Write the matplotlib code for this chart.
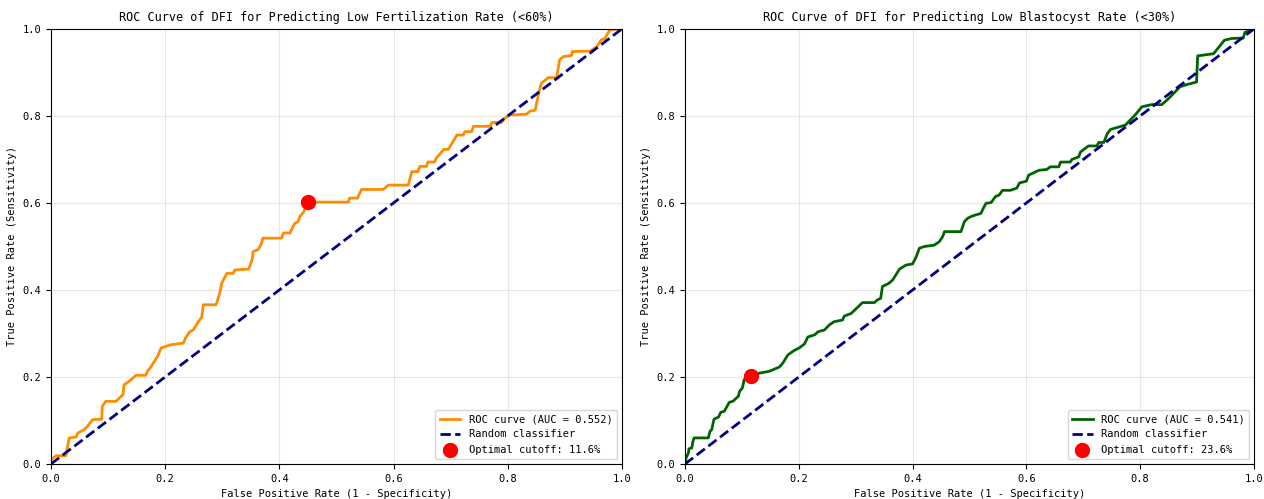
import matplotlib
matplotlib.use("Agg")
import matplotlib.pyplot as plt

plt.rcParams['font.family'] = ['DejaVu Sans Mono']

# ROC curve of DFI vs low fertilization rate (<60%)
fpr_fert = [0.0, 0.0, 0.009, 0.026, 0.032, 0.044, 0.047, 0.058, 0.064, 0.073, 0.089, 0.090,
            0.096, 0.114, 0.120, 0.126, 0.128, 0.137, 0.149, 0.166, 0.169, 0.175, 0.187, 0.193,
            0.210, 0.232, 0.236, 0.243, 0.249, 0.255, 0.258, 0.264, 0.267, 0.289, 0.293, 0.297,
            0.299, 0.302, 0.308, 0.319, 0.322, 0.346, 0.349, 0.353, 0.354, 0.363, 0.369, 0.371,
            0.404, 0.407, 0.419, 0.421, 0.427, 0.433, 0.436, 0.443, 0.447, 0.451, 0.521, 0.523,
            0.537, 0.540, 0.544, 0.582, 0.591, 0.626, 0.632, 0.643, 0.646, 0.658, 0.660, 0.672,
            0.675, 0.688, 0.696, 0.711, 0.722, 0.725, 0.737, 0.740, 0.770, 0.772, 0.789, 0.795,
            0.804, 0.833, 0.839, 0.848, 0.850, 0.855, 0.859, 0.871, 0.886, 0.887, 0.891, 0.897,
            0.912, 0.913, 0.944, 0.956, 0.964, 0.970, 0.979, 1.0]
tpr_fert = [0.0, 0.010, 0.019, 0.019, 0.060, 0.062, 0.071, 0.079, 0.087, 0.102, 0.103, 0.133,
            0.144, 0.144, 0.152, 0.159, 0.182, 0.190, 0.204, 0.204, 0.213, 0.223, 0.248, 0.267,
            0.274, 0.278, 0.290, 0.304, 0.308, 0.320, 0.327, 0.337, 0.366, 0.366, 0.381, 0.400,
            0.415, 0.423, 0.438, 0.438, 0.446, 0.448, 0.457, 0.473, 0.488, 0.493, 0.507, 0.519,
            0.519, 0.531, 0.531, 0.538, 0.553, 0.557, 0.569, 0.580, 0.595, 0.602, 0.602, 0.611,
            0.611, 0.620, 0.631, 0.631, 0.641, 0.641, 0.672, 0.672, 0.684, 0.684, 0.694, 0.694,
            0.703, 0.723, 0.723, 0.756, 0.756, 0.764, 0.764, 0.776, 0.776, 0.785, 0.785, 0.795,
            0.802, 0.804, 0.811, 0.813, 0.825, 0.856, 0.875, 0.888, 0.888, 0.898, 0.929, 0.936,
            0.939, 0.948, 0.949, 0.959, 0.975, 0.978, 0.998, 1.0]

# ROC curve of DFI vs low blastocyst rate (<30%)
fpr_blast = [0.0, 0.002, 0.006, 0.007, 0.012, 0.014, 0.016, 0.041, 0.044, 0.047, 0.051, 0.059,
             0.063, 0.069, 0.078, 0.084, 0.094, 0.096, 0.101, 0.104, 0.110, 0.116, 0.131, 0.148,
             0.157, 0.166, 0.172, 0.181, 0.192, 0.201, 0.210, 0.216, 0.228, 0.234, 0.245, 0.254,
             0.262, 0.277, 0.280, 0.292, 0.300, 0.312, 0.333, 0.338, 0.344, 0.347, 0.358, 0.365,
             0.377, 0.382, 0.388, 0.400, 0.406, 0.412, 0.421, 0.438, 0.447, 0.453, 0.456, 0.485,
             0.491, 0.497, 0.505, 0.520, 0.526, 0.529, 0.538, 0.546, 0.552, 0.558, 0.572, 0.583,
             0.588, 0.600, 0.604, 0.622, 0.636, 0.642, 0.657, 0.660, 0.677, 0.680, 0.692, 0.695,
             0.709, 0.724, 0.727, 0.736, 0.742, 0.748, 0.774, 0.791, 0.803, 0.820, 0.838, 0.850,
             0.870, 0.882, 0.899, 0.901, 0.929, 0.948, 0.961, 0.981, 0.984, 0.995, 1.0]
tpr_blast = [0.0, 0.014, 0.025, 0.035, 0.037, 0.052, 0.060, 0.060, 0.075, 0.079, 0.103, 0.108,
             0.119, 0.121, 0.142, 0.144, 0.156, 0.167, 0.175, 0.194, 0.200, 0.203, 0.209, 0.213,
             0.218, 0.223, 0.232, 0.251, 0.261, 0.267, 0.276, 0.292, 0.297, 0.304, 0.308, 0.320,
             0.327, 0.331, 0.340, 0.346, 0.356, 0.371, 0.371, 0.377, 0.381, 0.408, 0.415, 0.423,
             0.448, 0.452, 0.457, 0.460, 0.475, 0.496, 0.500, 0.503, 0.511, 0.523, 0.534, 0.534,
             0.557, 0.565, 0.570, 0.576, 0.592, 0.599, 0.601, 0.615, 0.618, 0.629, 0.629, 0.634,
             0.646, 0.650, 0.664, 0.675, 0.677, 0.683, 0.683, 0.694, 0.694, 0.700, 0.706, 0.717,
             0.731, 0.731, 0.739, 0.739, 0.759, 0.769, 0.779, 0.802, 0.821, 0.826, 0.826, 0.840,
             0.867, 0.872, 0.878, 0.938, 0.943, 0.974, 0.978, 0.979, 0.992, 0.998, 1.0]

auc_fert = 0.552
auc_blast = 0.541
opt_fert = (0.451, 0.602, 11.6)
opt_blast = (0.116, 0.203, 23.6)

titles = ['ROC Curve of DFI for Predicting Low Fertilization Rate (<60%)',
          'ROC Curve of DFI for Predicting Low Blastocyst Rate (<30%)']


def plot_roc(ax, fpr, tpr, auc, opt, color, title):
    ax.plot(fpr, tpr, color=color, lw=2, label='ROC curve (AUC = %.3f)' % auc)
    ax.plot([0, 1], [0, 1], color='navy', lw=2, linestyle='--', label='Random classifier')
    ax.scatter([opt[0]], [opt[1]], color='red', s=100, zorder=5,
               label='Optimal cutoff: %.1f%%' % opt[2])
    ax.set_xlim(0, 1)
    ax.set_ylim(0, 1)
    ax.set_xlabel('False Positive Rate (1 - Specificity)', fontsize=7.5)
    ax.set_ylabel('True Positive Rate (Sensitivity)', fontsize=7.5)
    ax.set_title(title, fontsize=8.5)
    ax.tick_params(labelsize=7.5)
    ax.legend(loc='lower right', fontsize=7.5)
    ax.grid(True, alpha=0.3)


fig = plt.figure(figsize=(12.64, 4.99), dpi=100)
ax1 = fig.add_axes([0.0403, 0.0701, 0.4517, 0.872])
ax2 = fig.add_axes([0.5419, 0.0701, 0.4502, 0.872])

plot_roc(ax1, fpr_fert, tpr_fert, auc_fert, opt_fert, 'darkorange', titles[0])
plot_roc(ax2, fpr_blast, tpr_blast, auc_blast, opt_blast, 'darkgreen', titles[1])

fig.savefig('out.png', dpi=100)
plt.close()
